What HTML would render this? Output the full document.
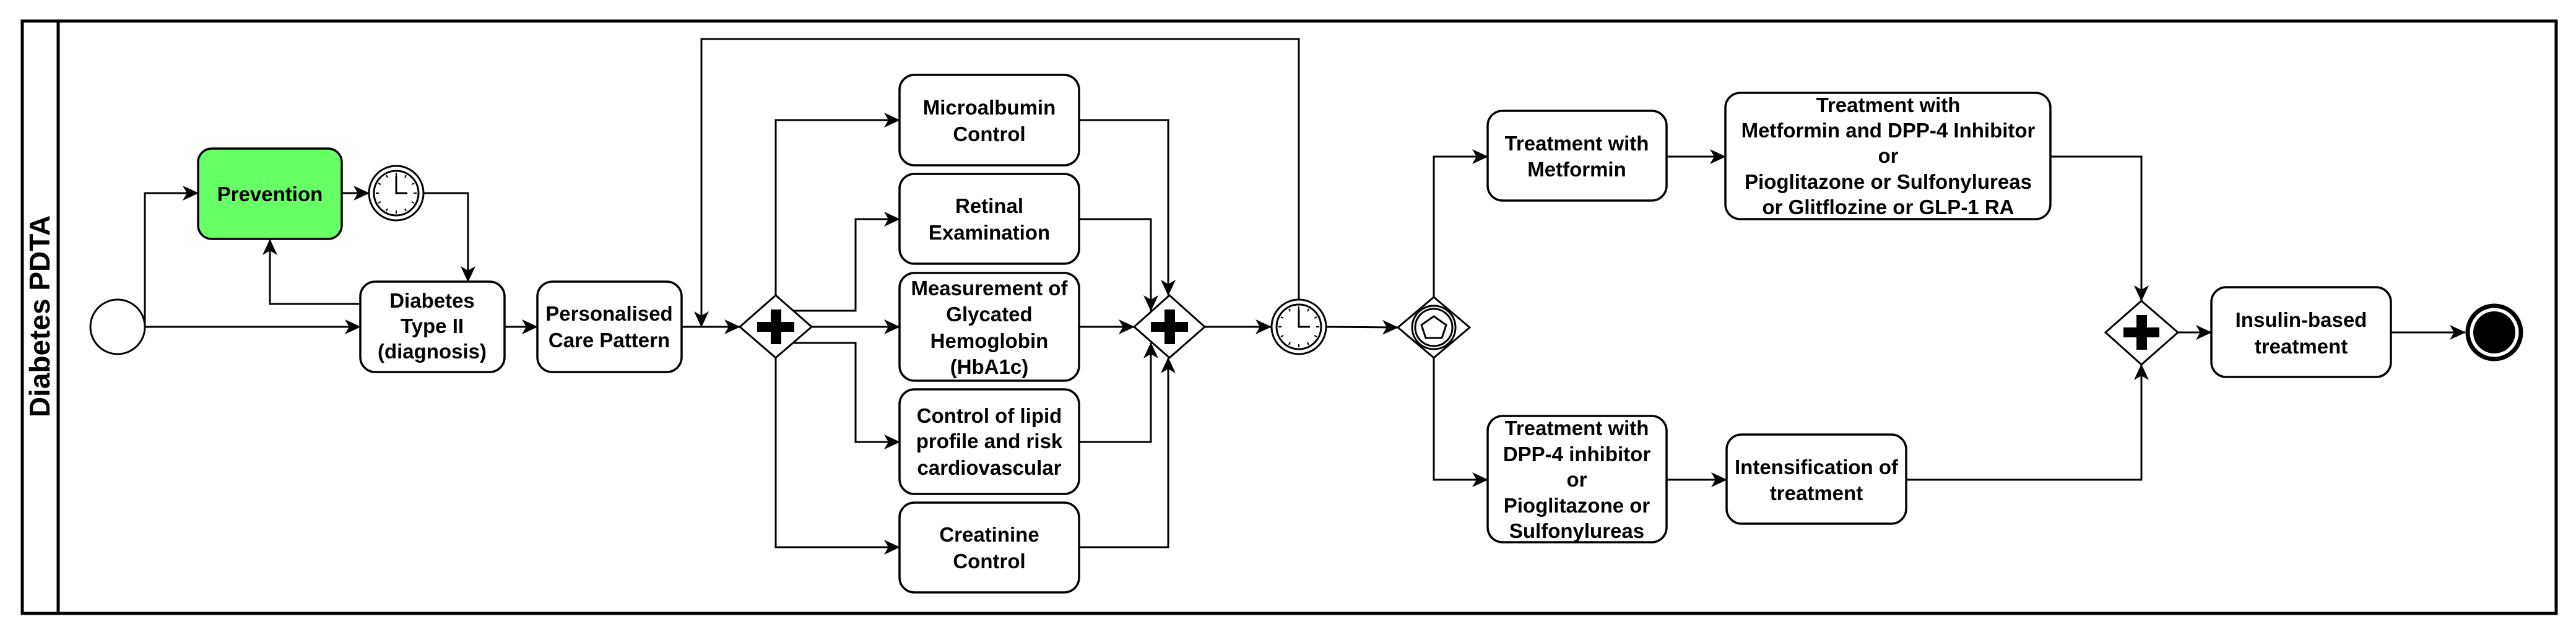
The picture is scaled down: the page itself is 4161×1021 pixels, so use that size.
<!DOCTYPE html>
<html><head><meta charset="utf-8"><style>
html,body{margin:0;padding:0;background:#fff;}
svg{display:block;}
text{font-family:"Liberation Sans",Arial,sans-serif;font-weight:bold;font-size:33px;fill:#000;text-anchor:middle;}
</style></head><body>
<svg width="4161" height="1021" viewBox="0 0 4161 1021" xmlns="http://www.w3.org/2000/svg">
<defs>
<marker id="a" viewBox="0 0 26 24" refX="25" refY="12" markerWidth="26" markerHeight="24" markerUnits="userSpaceOnUse" orient="auto">
<path d="M0,0 L26,12 L0,24 L7,12 z" fill="#000"/>
</marker>
</defs>
<rect x="0" y="0" width="4161" height="1021" fill="#fff"/>
<!-- pool -->
<rect x="36" y="34" width="4093" height="957" fill="none" stroke="#000" stroke-width="5"/>
<line x1="94" y1="34" x2="94" y2="991" stroke="#000" stroke-width="5"/>
<text x="0" y="0" transform="translate(80,511) rotate(-90)" style="font-size:46px">Diabetes PDTA</text>

<g fill="none" stroke="#000" stroke-width="3">
<!-- edges -->
<polyline points="234,528 582,528" marker-end="url(#a)"/>
<polyline points="234,528 234,312 320,312" marker-end="url(#a)"/>
<polyline points="552,312 596,312" marker-end="url(#a)"/>
<polyline points="684,312 756,312 756,455" marker-end="url(#a)"/>
<polyline points="582,491 436,491 436,387" marker-end="url(#a)"/>
<polyline points="815,528 868,528" marker-end="url(#a)"/>
<polyline points="1101,528 1195,528" marker-end="url(#a)"/>
<polyline points="2098,483 2098,63 1133,63 1133,528" marker-end="url(#a)"/>
<polyline points="1253,477 1253,194 1453,194" marker-end="url(#a)"/>
<polyline points="1278,502 1382,502 1382,354 1453,354" marker-end="url(#a)"/>
<polyline points="1311,528 1453,528" marker-end="url(#a)"/>
<polyline points="1278,554 1382,554 1382,714 1453,714" marker-end="url(#a)"/>
<polyline points="1253,578 1253,884 1453,884" marker-end="url(#a)"/>
<polyline points="1743,194 1887,194 1887,477" marker-end="url(#a)"/>
<polyline points="1743,354 1859,354 1859,502" marker-end="url(#a)"/>
<polyline points="1743,528 1832,528" marker-end="url(#a)"/>
<polyline points="1743,714 1859,714 1859,554" marker-end="url(#a)"/>
<polyline points="1743,884 1887,884 1887,578" marker-end="url(#a)"/>
<polyline points="1946,528 2053,528" marker-end="url(#a)"/>
<polyline points="2143,528 2258,529" marker-end="url(#a)"/>
<polyline points="2316,480 2316,253 2403,253" marker-end="url(#a)"/>
<polyline points="2316,578 2316,775 2403,775" marker-end="url(#a)"/>
<polyline points="2692,253 2787,253" marker-end="url(#a)"/>
<polyline points="2692,775 2789,775" marker-end="url(#a)"/>
<polyline points="3312,253 3459,253 3459,486" marker-end="url(#a)"/>
<polyline points="3079,775 3459,775 3459,589" marker-end="url(#a)"/>
<polyline points="3518,537 3572,537" marker-end="url(#a)"/>
<polyline points="3862,537 3982,537" marker-end="url(#a)"/>
</g>

<!-- start -->
<ellipse cx="190" cy="528" rx="44" ry="44" fill="#fff" stroke="#000" stroke-width="3"/>
<!-- tasks -->
<g stroke="#000" stroke-width="3.5" fill="#fff">
<rect x="320" y="240" width="232" height="146" rx="22" fill="#66ff66"/>
<rect x="582" y="455" width="233" height="146" rx="24"/>
<rect x="868" y="455" width="233" height="146" rx="24"/>
<rect x="1453" y="121" width="290" height="146" rx="24"/>
<rect x="1453" y="281" width="290" height="145" rx="24"/>
<rect x="1453" y="441" width="290" height="174" rx="24"/>
<rect x="1453" y="629" width="290" height="169" rx="24"/>
<rect x="1453" y="812" width="290" height="145" rx="24"/>
<rect x="2403" y="179" width="289" height="145" rx="24"/>
<rect x="2787" y="150" width="525" height="204" rx="24"/>
<rect x="2403" y="672" width="289" height="204" rx="24"/>
<rect x="2789" y="702" width="290" height="144" rx="24"/>
<rect x="3572" y="464" width="290" height="145" rx="24"/>
</g>

<!-- gateways -->
<g stroke="#000" stroke-width="3" fill="#fff">
<polygon points="1253,477 1311,528 1253,578 1195,528"/>
<polygon points="1889,477 1946,528 1889,578 1832,528"/>
<polygon points="2316,480 2374,529 2316,578 2258,529"/>
<polygon points="3459,486 3518,537 3459,589 3401,537"/>
</g>
<g fill="#000">
<rect x="1223" y="520" width="60" height="16"/><rect x="1245" y="500" width="17" height="56"/>
<rect x="1859" y="520" width="60" height="16"/><rect x="1881" y="500" width="17" height="56"/>
<rect x="3430" y="529" width="58" height="16"/><rect x="3451" y="509" width="17" height="56"/>
</g>
<!-- event gateway icon -->
<circle cx="2316" cy="529" r="35" fill="none" stroke="#000" stroke-width="3"/>
<circle cx="2316" cy="529" r="30" fill="none" stroke="#000" stroke-width="3"/>
<polygon points="2316,511 2336,525 2329,546 2303,546 2296,525" fill="none" stroke="#000" stroke-width="3"/>

<!-- timers -->
<g id="t1" fill="#fff" stroke="#000">
<circle cx="640" cy="312" r="44" stroke-width="3"/>
<circle cx="640" cy="312" r="36" stroke-width="3"/>
<g stroke-width="2">
<line x1="640" y1="279" x2="640" y2="284"/><line x1="640" y1="345" x2="640" y2="340"/>
<line x1="607" y1="312" x2="612" y2="312"/><line x1="673" y1="312" x2="668" y2="312"/>
<line x1="656" y1="283" x2="654" y2="287"/><line x1="669" y1="296" x2="665" y2="298"/>
<line x1="669" y1="328" x2="665" y2="326"/><line x1="656" y1="341" x2="654" y2="337"/>
<line x1="624" y1="341" x2="626" y2="337"/><line x1="611" y1="328" x2="615" y2="326"/>
<line x1="611" y1="296" x2="615" y2="298"/><line x1="624" y1="283" x2="626" y2="287"/>
</g>
<polyline points="640,284 640,312 658,312" fill="none" stroke-width="3"/>
</g>
<use href="#t1" transform="translate(1458,216)"/>

<!-- end -->
<circle cx="4029" cy="537" r="43" fill="#fff" stroke="#000" stroke-width="7"/>
<circle cx="4029" cy="537" r="34" fill="#000"/>

<!-- labels -->
<text x="436" y="325">Prevention</text>
<text x="698" y="497">Diabetes</text><text x="698" y="538">Type II</text><text x="698" y="579">(diagnosis)</text>
<text x="984" y="518">Personalised</text><text x="984" y="561">Care Pattern</text>
<text x="1598" y="185">Microalbumin</text><text x="1598" y="228">Control</text>
<text x="1598" y="344">Retinal</text><text x="1598" y="387">Examination</text>
<text x="1598" y="477">Measurement of</text><text x="1598" y="519">Glycated</text><text x="1598" y="562">Hemoglobin</text><text x="1598" y="604">(HbA1c)</text>
<text x="1598" y="683">Control of lipid</text><text x="1598" y="724">profile and risk</text><text x="1598" y="767">cardiovascular</text>
<text x="1598" y="875">Creatinine</text><text x="1598" y="918">Control</text>
<text x="2547" y="243">Treatment with</text><text x="2547" y="285">Metformin</text>
<text x="3050" y="181">Treatment with</text><text x="3050" y="222">Metformin and DPP-4 Inhibitor</text><text x="3050" y="263">or</text><text x="3050" y="305">Pioglitazone or Sulfonylureas</text><text x="3050" y="346">or Glitflozine or GLP-1 RA</text>
<text x="2547" y="703">Treatment with</text><text x="2547" y="745">DPP-4 inhibitor</text><text x="2547" y="786">or</text><text x="2547" y="828">Pioglitazone or</text><text x="2547" y="869">Sulfonylureas</text>
<text x="2934" y="766">Intensification of</text><text x="2934" y="808">treatment</text>
<text x="3717" y="528">Insulin-based</text><text x="3717" y="571">treatment</text>
</svg>
</body></html>
